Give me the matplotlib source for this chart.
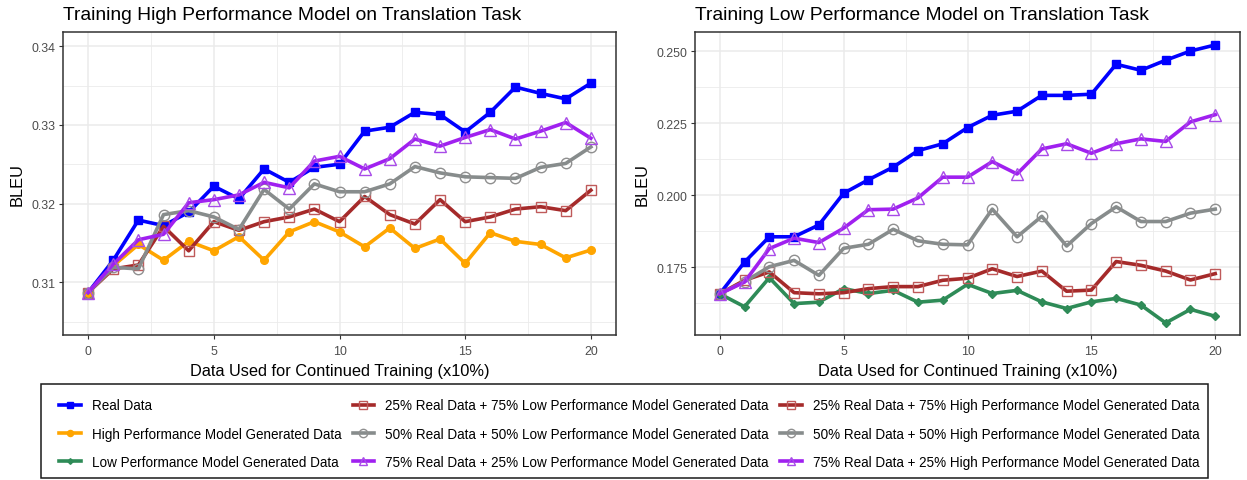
import matplotlib
matplotlib.use("Agg")
import matplotlib.pyplot as plt
from matplotlib.ticker import FixedLocator
from matplotlib.patches import Rectangle

plt.rcParams['font.family'] = ['Liberation Sans', 'DejaVu Sans']

# ---------------- data ----------------
x = list(range(21))

left_real = [0.3087, 0.3128, 0.3179, 0.3172, 0.3189, 0.3222, 0.3206, 0.3244, 0.3227, 0.3246, 0.3250,
             0.3292, 0.3297, 0.3316, 0.3313, 0.3291, 0.3316, 0.3348, 0.3340, 0.3333, 0.3353]
left_high_gen = [0.3087, 0.3121, 0.3148, 0.3128, 0.3152, 0.3140, 0.3158, 0.3128, 0.3164, 0.3177, 0.3164,
                 0.3145, 0.3169, 0.3143, 0.3155, 0.3124, 0.3163, 0.3152, 0.3148, 0.3131, 0.3141]
left_mix25 = [0.3087, 0.3117, 0.3122, 0.3171, 0.3140, 0.3177, 0.3166, 0.3177, 0.3183, 0.3193, 0.3177,
              0.3209, 0.3186, 0.3174, 0.3205, 0.3177, 0.3183, 0.3193, 0.3196, 0.3191, 0.3217]
left_mix50 = [0.3087, 0.3119, 0.3117, 0.3186, 0.3191, 0.3183, 0.3167, 0.3218, 0.3193, 0.3225, 0.3215,
              0.3215, 0.3225, 0.3247, 0.3239, 0.3234, 0.3233, 0.3232, 0.3246, 0.3251, 0.3272]
left_mix75 = [0.3087, 0.3123, 0.3154, 0.3161, 0.3201, 0.3205, 0.3211, 0.3227, 0.3220, 0.3254, 0.3260,
              0.3244, 0.3257, 0.3282, 0.3273, 0.3284, 0.3294, 0.3282, 0.3292, 0.3303, 0.3283]

right_real = [0.1658, 0.1768, 0.1856, 0.1856, 0.1897, 0.2007, 0.2054, 0.2098, 0.2155, 0.2179, 0.2235,
              0.2278, 0.2292, 0.2347, 0.2347, 0.2351, 0.2455, 0.2434, 0.2469, 0.2501, 0.2522]
right_low_gen = [0.1658, 0.1613, 0.1714, 0.1624, 0.1629, 0.1676, 0.1659, 0.1670, 0.1629, 0.1636, 0.1691,
                 0.1659, 0.1670, 0.1630, 0.1607, 0.1630, 0.1642, 0.1619, 0.1557, 0.1604, 0.1580]
right_mix25 = [0.1658, 0.1705, 0.1734, 0.1662, 0.1658, 0.1662, 0.1676, 0.1683, 0.1683, 0.1705, 0.1712,
               0.1745, 0.1718, 0.1737, 0.1667, 0.1671, 0.1770, 0.1757, 0.1737, 0.1706, 0.1728]
right_mix50 = [0.1658, 0.1700, 0.1752, 0.1774, 0.1722, 0.1816, 0.1830, 0.1882, 0.1842, 0.1830, 0.1828,
               0.1952, 0.1856, 0.1927, 0.1824, 0.1902, 0.1960, 0.1909, 0.1909, 0.1938, 0.1952]
right_mix75 = [0.1658, 0.1699, 0.1815, 0.1851, 0.1836, 0.1886, 0.1950, 0.1952, 0.1991, 0.2063, 0.2063,
               0.2117, 0.2074, 0.2161, 0.2179, 0.2146, 0.2179, 0.2196, 0.2187, 0.2255, 0.2280]

left_title = "Training High Performance Model on Translation Task"
right_title = "Training Low Performance Model on Translation Task"
xlabel = "Data Used for Continued Training (x10%)"
ylabel = "BLEU"

x_ticks = [0, 5, 10, 15, 20]
left_yticks = [0.31, 0.32, 0.33, 0.34]
left_yticklabels = ["0.31", "0.32", "0.33", "0.34"]
right_yticks = [0.175, 0.200, 0.225, 0.250]
right_yticklabels = ["0.175", "0.200", "0.225", "0.250"]

lab_real = "Real Data"
lab_high = "High Performance Model Generated Data"
lab_low = "Low Performance Model Generated Data"
lab_25L = "25% Real Data + 75% Low Performance Model Generated Data"
lab_50L = "50% Real Data + 50% Low Performance Model Generated Data"
lab_75L = "75% Real Data + 25% Low Performance Model Generated Data"
lab_25H = "25% Real Data + 75% High Performance Model Generated Data"
lab_50H = "50% Real Data + 50% High Performance Model Generated Data"
lab_75H = "75% Real Data + 25% High Performance Model Generated Data"

# ---------------- styles ----------------
LW = 2.6
st_real = dict(color='#0000FF', marker='s', ms=6.2, mfc='#0000FF', mec='#0000FF', lw=LW)
st_high = dict(color='#FFA500', marker='o', ms=5.5, mfc='#FFA500', mec='#FFA500', lw=LW)
st_low = dict(color='#2E8B57', marker='D', ms=3.6, mfc='#2E8B57', mec='#2E8B57', lw=LW)
st_25 = dict(color='#A52A2A', marker='s', ms=7.2, mfc='none', mec='#BF5A5A', mew=1.0, lw=LW)
st_50 = dict(color='#878C8C', marker='o', ms=7.5, mfc='none', mec='#8F8F8F', mew=1.0, lw=LW)
st_75 = dict(color='#A020F0', marker='^', ms=8.0, mfc='none', mec='#A84BE8', mew=1.0, lw=LW)

W, H = 1247, 481
fig = plt.figure(figsize=(W / 100, H / 100), dpi=100)

def px_axes(l, t, r, b):
    return fig.add_axes([l / W, 1 - b / H, (r - l) / W, (b - t) / H])

axL = px_axes(63, 33, 616, 336)
axR = px_axes(695, 33, 1240, 336)

hL = {}
hL['real'], = axL.plot(x, left_real, **st_real)
hL['high'], = axL.plot(x, left_high_gen, **st_high)
hL['25'], = axL.plot(x, left_mix25, **st_25)
hL['50'], = axL.plot(x, left_mix50, **st_50)
hL['75'], = axL.plot(x, left_mix75, **st_75)

hR = {}
hR['real'], = axR.plot(x, right_real, **st_real)
hR['low'], = axR.plot(x, right_low_gen, **st_low)
hR['25'], = axR.plot(x, right_mix25, **st_25)
hR['50'], = axR.plot(x, right_mix50, **st_50)
hR['75'], = axR.plot(x, right_mix75, **st_75)

def style(ax, title, yticks, yticklabels, ylim, yminor, ylab_x):
    ax.set_xlim(-1, 21)
    ax.set_ylim(*ylim)
    ax.xaxis.set_major_locator(FixedLocator(x_ticks))
    ax.xaxis.set_minor_locator(FixedLocator([-2.5, 2.5, 7.5, 12.5, 17.5, 22.5]))
    ax.yaxis.set_major_locator(FixedLocator(yticks))
    ax.set_yticklabels(yticklabels)
    ax.yaxis.set_minor_locator(FixedLocator(yminor))
    ax.grid(True, which='major', color='#EBEBEB', lw=1.1)
    ax.grid(True, which='minor', color='#EBEBEB', lw=0.6)
    ax.set_axisbelow(True)
    for s in ax.spines.values():
        s.set_color('#333333')
        s.set_linewidth(1.1)
    ax.tick_params(which='major', length=3, width=0.8, color='#333333',
                   labelcolor='#4D4D4D', labelsize=8.9)
    ax.tick_params(axis='x', which='major', pad=4)
    ax.tick_params(axis='y', which='major', pad=2.5)
    ax.tick_params(which='minor', length=0)
    ax.set_title(title, loc='left', fontsize=13.85, pad=9, color='black')
    ax.set_xlabel(xlabel, fontsize=11.8, labelpad=4.5)
    ax.set_ylabel(ylabel, fontsize=11.8)
    ax.yaxis.set_label_coords(ylab_x, 0.5)

style(axL, left_title, left_yticks, left_yticklabels, (0.3033, 0.3418),
      [0.305, 0.315, 0.325, 0.335, 0.345], -0.070)
style(axR, right_title, right_yticks, right_yticklabels, (0.1515, 0.2567),
      [0.1625, 0.1875, 0.2125, 0.2375], -0.084)

# legend frame
fig.patches.append(Rectangle((41 / W, 1 - 479 / H), (1208 - 41) / W, (479 - 385) / H,
                             transform=fig.transFigure, fill=False, edgecolor='#1A1A1A', lw=1.1))

handles = [hL['real'], hL['high'], hR['low'], hR['25'], hR['50'], hR['75'], hL['25'], hL['50'], hL['75']]
labels = [lab_real, lab_high, lab_low, lab_25L, lab_50L, lab_75L, lab_25H, lab_50H, lab_75H]
fig.legend(handles, labels, ncol=3, loc='upper left', bbox_to_anchor=(59 / W, 1 - 399.5 / H),
           frameon=False, fontsize=9.75, numpoints=1, handlelength=1.6, handletextpad=0.8,
           labelspacing=1.04, columnspacing=0.85, borderpad=0, borderaxespad=0, markerscale=0.8)

fig.savefig("out.png", dpi=100)
